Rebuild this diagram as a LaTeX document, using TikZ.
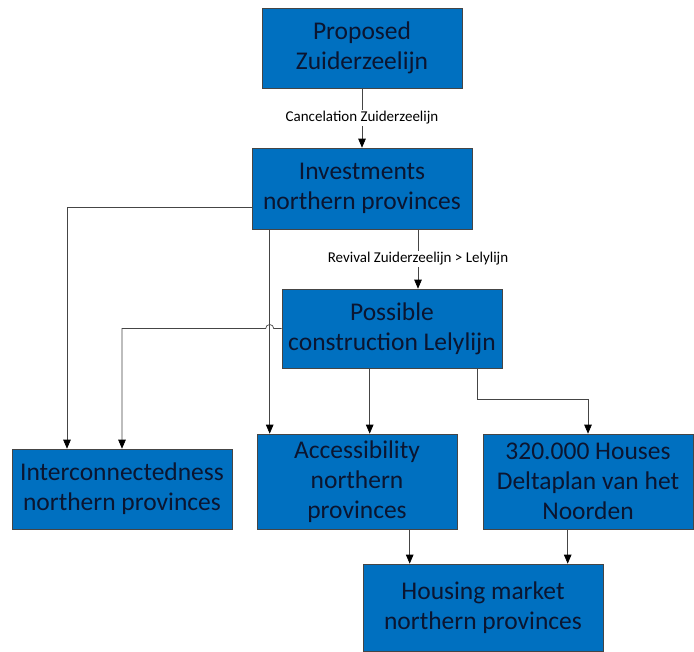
\documentclass[tikz,border=0pt]{standalone}
\usepackage{fontspec}
\setmainfont{Carlito}
\usetikzlibrary{arrows.meta,calc}
\definecolor{boxblue}{HTML}{0070C0}
\definecolor{boxtext}{HTML}{0B1530}
\definecolor{edgegray}{HTML}{454545}
\tikzset{
  box/.style={draw=edgegray, line width=0.6pt, fill=boxblue, text=boxtext,
    align=center, inner sep=0pt, font=\fontsize{25.5}{30}\selectfont},
  arr/.style={draw=edgegray, line width=0.7pt, -{Triangle[length=9pt,width=7.5pt,fill=black,color=black]}},
  lab/.style={fill=white, inner sep=1.5pt, font=\fontsize{15}{17}\selectfont, text=black}
}
\begin{document}
\begin{tikzpicture}[x=1pt,y=-1pt]
\useasboundingbox (0,0) rectangle (694,652);
\node[box, minimum width=200pt, minimum height=80pt] (prop) at (362,48) {Proposed\\Zuiderzeelijn};
\node[box, minimum width=220pt, minimum height=81pt] (inv) at (362,188.5) {Investments\\northern provinces};
\node[box, minimum width=220pt, minimum height=79pt] (poss) at (392,328.5) {Possible\\construction Lelylijn};
\node[box, minimum width=220pt, minimum height=80pt] (inter) at (122,489) {Interconnectedness\\northern provinces};
\node[box, minimum width=200pt, minimum height=95pt] (acc) at (357,481.5) {Accessibility\\northern\\provinces};
\node[box, minimum width=210pt, minimum height=95pt] (houses) at (588,481.5) {320.000 Houses\\Deltaplan van het\\Noorden};
\node[box, minimum width=240pt, minimum height=87pt] (housing) at (483,607.5) {Housing market\\northern provinces};

\draw[arr] (prop.south) -- node[lab] {Cancelation Zuiderzeelijn} (inv.north);
\draw[arr] ([xshift=26pt]poss.north |- inv.south) -- node[lab] {Revival Zuiderzeelijn > Lelylijn} ([xshift=26pt]poss.north);
\draw[arr] ([yshift=-18.5pt]inv.west) -| ([xshift=-55pt]inter.north);
\draw[arr] ([xshift=18pt]inv.south west) -- ([xshift=18pt]inv.south west |- acc.north);
\draw[arr] (poss.west) -- ([xshift=22pt]inv.south west |- poss.west) arc (0:180:4pt) -- (inter.north |- poss.west) -- (inter.north);
\draw[arr] ([xshift=88pt]poss.south west) -- ([xshift=88pt]poss.south west |- acc.north);
\draw[arr] ([xshift=196pt]poss.south west) -- ++(0,31) -| (houses.north);
\draw[arr] ([xshift=153pt]acc.south west) -- ([xshift=153pt]acc.south west |- housing.north);
\draw[arr] ([xshift=85pt]houses.south west) -- ([xshift=85pt]houses.south west |- housing.north);
\end{tikzpicture}
\end{document}
